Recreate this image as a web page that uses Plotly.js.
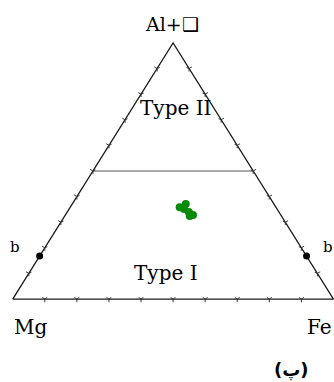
<!DOCTYPE html>
<html>
<head>
<meta charset="utf-8">
<script src="https://cdn.plot.ly/plotly-3.0.1.min.js"></script>
<style>
    html, body { margin: 0; padding: 0; background: #fff; }
    #chart { width: 334px; height: 382px; }
</style>
</head>
<body>
<div id="chart"></div>
<script>
// ternary fractions: Al+vacancy (top), Fe (right), Mg (left)
const cornerAl = [0, 0, 1, 0];
const cornerFe = [0, 1, 0, 0];

const dividerAl = [0.5, 0.5];
const dividerFe = [0, 0.5];

const tickSteps = [0.1, 0.2, 0.3, 0.4, 0.5, 0.6, 0.7, 0.8, 0.9];

const sampleAl = [0.359, 0.371, 0.352, 0.340, 0.328, 0.324];
const sampleFe = [0.341, 0.354, 0.358, 0.379, 0.398, 0.390];

const bAl = [0.168, 0.168];
const bFe = [0, 0.832];

// ternary -> plane
function toX(al, fe) { return fe + al / 2; }

function edgeTrace(al, fe, color, width) {
    return {
        x: al.map((a, i) => toX(a, fe[i])),
        y: al,
        mode: "lines",
        type: "scatter",
        line: { color: color, width: width },
        hoverinfo: "skip"
    };
}

function tickTrace(al, fe, angle) {
    return {
        x: al.map((a, i) => toX(a, fe[i])),
        y: al,
        mode: "markers",
        type: "scatter",
        marker: { symbol: "y-up-open", size: 4, angle: angle, color: "#333", line: { color: "#333", width: 1 } },
        hoverinfo: "skip"
    };
}

const zeros = tickSteps.map(() => 0);

const traces = [
    edgeTrace(cornerAl, cornerFe, "#1a1a1a", 1.3),
    edgeTrace(dividerAl, dividerFe, "#555", 1),
    tickTrace(zeros, tickSteps, 180),
    tickTrace(tickSteps, zeros, -58),
    tickTrace(tickSteps, tickSteps.map(t => 1 - t), 58),
    {
        x: bAl.map((a, i) => toX(a, bFe[i])),
        y: bAl,
        mode: "markers",
        type: "scatter",
        marker: { color: "#000", size: 7 }
    },
    {
        x: sampleAl.map((a, i) => toX(a, sampleFe[i])),
        y: sampleAl,
        mode: "markers",
        type: "scatter",
        marker: { color: "#078a07", size: 8 }
    }
];

const serif = { family: "DejaVu Serif, serif", size: 20, color: "#000" };

function label(text, x, y, size) {
    return { text: text, x: x, y: y, xref: "x", yref: "y", showarrow: false,
             font: Object.assign({}, serif, { size: size }) };
}

const layout = {
    width: 334,
    height: 382,
    margin: { l: 0, r: 0, t: 0, b: 0 },
    showlegend: false,
    paper_bgcolor: "#fff",
    plot_bgcolor: "#fff",
    xaxis: { range: [-0.0396, 1.0016], visible: false, fixedrange: true },
    yaxis: { range: [-0.324, 1.168], visible: false, fixedrange: true },
    annotations: [
        label("Al+❑", 0.497, 1.074, 19),
        label("Type II", 0.507, 0.745, 20),
        label("Type I", 0.479, 0.1, 20),
        label("Mg", 0.055, -0.11, 20),
        label("Fe", 0.955, -0.11, 20),
        label("b", 0.007, 0.205, 15),
        label("b", 0.982, 0.205, 15),
        { text: "<b>(پ)</b>", x: 0.868, y: -0.278, xref: "x", yref: "y", showarrow: false,
          font: { family: "DejaVu Sans, sans-serif", size: 18, color: "#000" } }
    ]
};

Plotly.newPlot("chart", traces, layout, { displayModeBar: false, staticPlot: true });
</script>
</body>
</html>
